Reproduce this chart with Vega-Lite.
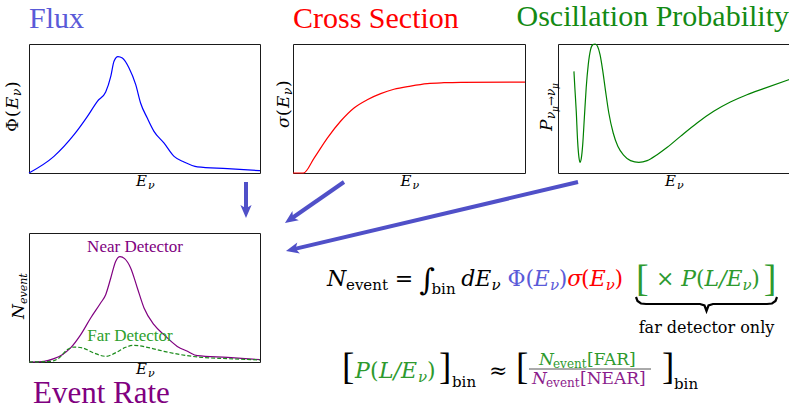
{
"$schema": "https://vega.github.io/schema/vega-lite/v6.json",
"background": "white",
"padding": 0,
"config": {
  "view": {"stroke": "#1a1a1a", "strokeWidth": 1},
  "axis": {"disable": true},
  "text": {"align": "left", "baseline": "alphabetic", "font": "DejaVu Serif", "color": "#000000"}
},
"columns": 3,
"align": "none",
"bounds": "flush",
"spacing": {"row": 60, "column": 33},
"concat": [
  {"width": 231, "height": 129,
   "title": {"text": "Flux", "color": "#5a5ad8", "anchor": "start", "offset": -14, "frame": "group", "baseline": "alphabetic", "font": "Liberation Serif", "fontWeight": "normal", "fontSize": 30},
   "data": {"values": [{}]},
   "layer": [
    {"data": {"values": [
      {"E":0,"v":0},{"E":0.108,"v":0.129},{"E":0.195,"v":0.297},{"E":0.253,"v":0.439},{"E":0.296,"v":0.556},{"E":0.332,"v":0.628},{"E":0.354,"v":0.749},{"E":0.368,"v":0.866},{"E":0.385,"v":0.902},{"E":0.404,"v":0.891},{"E":0.433,"v":0.814},{"E":0.462,"v":0.685},{"E":0.483,"v":0.543},{"E":0.512,"v":0.426},{"E":0.541,"v":0.323},{"E":0.584,"v":0.233},{"E":0.628,"v":0.129},{"E":0.671,"v":0.085},{"E":0.729,"v":0.047},{"E":0.859,"v":0.034},{"E":1,"v":0.018}]},
     "mark": {"type": "line", "color": "#0000ff", "strokeWidth": 1.2, "interpolate": "monotone"},
     "encoding": {"x": {"field": "E", "type": "quantitative", "scale": {"domain":[0,1],"nice":false,"zero":false}}, "y": {"field": "v", "type": "quantitative", "scale": {"domain":[0,1],"nice":false,"zero":false}}}},
    {"mark": {"type": "text", "text": "E", "fontStyle": "italic", "fontSize": 15}, "encoding": {"x": {"datum": 0.463}, "y": {"datum": -0.101}}},
    {"mark": {"type": "text", "text": "ν", "fontStyle": "italic", "fontSize": 11}, "encoding": {"x": {"datum": 0.515}, "y": {"datum": -0.124}}},
    {"mark": {"type": "text", "text": "Φ", "fontSize": 17, "angle": 270}, "encoding": {"x": {"datum": -0.048}, "y": {"datum": 0.318}}},
    {"mark": {"type": "text", "text": "(", "fontSize": 17, "angle": 270}, "encoding": {"x": {"datum": -0.048}, "y": {"datum": 0.434}}},
    {"mark": {"type": "text", "text": "E", "fontStyle": "italic", "fontSize": 17, "angle": 270}, "encoding": {"x": {"datum": -0.048}, "y": {"datum": 0.496}}},
    {"mark": {"type": "text", "text": "ν", "fontStyle": "italic", "fontSize": 12, "angle": 270}, "encoding": {"x": {"datum": -0.035}, "y": {"datum": 0.597}}},
    {"mark": {"type": "text", "text": ")", "fontSize": 17, "angle": 270}, "encoding": {"x": {"datum": -0.048}, "y": {"datum": 0.659}}}
   ]},
  {"width": 232, "height": 129,
   "title": {"text": "Cross Section", "color": "#ff0000", "anchor": "start", "offset": -14, "frame": "group", "baseline": "alphabetic", "font": "Liberation Serif", "fontWeight": "normal", "fontSize": 30},
   "data": {"values": [{}]},
   "layer": [
    {"data": {"values": [
      {"E":0,"v":0},{"E":0.045,"v":0},{"E":0.091,"v":0.116},{"E":0.148,"v":0.271},{"E":0.205,"v":0.401},{"E":0.263,"v":0.504},{"E":0.320,"v":0.568},{"E":0.378,"v":0.615},{"E":0.435,"v":0.649},{"E":0.507,"v":0.674},{"E":0.579,"v":0.693},{"E":0.651,"v":0.700},{"E":0.723,"v":0.703},{"E":1,"v":0.705}]},
     "mark": {"type": "line", "color": "#ff0000", "strokeWidth": 1.2, "interpolate": "monotone"},
     "encoding": {"x": {"field": "E", "type": "quantitative", "scale": {"domain":[0,1],"nice":false,"zero":false}}, "y": {"field": "v", "type": "quantitative", "scale": {"domain":[0,1],"nice":false,"zero":false}}}},
    {"mark": {"type": "text", "text": "E", "fontStyle": "italic", "fontSize": 15}, "encoding": {"x": {"datum": 0.463}, "y": {"datum": -0.101}}},
    {"mark": {"type": "text", "text": "ν", "fontStyle": "italic", "fontSize": 11}, "encoding": {"x": {"datum": 0.515}, "y": {"datum": -0.124}}},
    {"mark": {"type": "text", "text": "σ", "fontStyle": "italic", "fontSize": 17, "angle": 270}, "encoding": {"x": {"datum": -0.017}, "y": {"datum": 0.349}}},
    {"mark": {"type": "text", "text": "(", "fontSize": 17, "angle": 270}, "encoding": {"x": {"datum": -0.017}, "y": {"datum": 0.442}}},
    {"mark": {"type": "text", "text": "E", "fontStyle": "italic", "fontSize": 17, "angle": 270}, "encoding": {"x": {"datum": -0.017}, "y": {"datum": 0.504}}},
    {"mark": {"type": "text", "text": "ν", "fontStyle": "italic", "fontSize": 12, "angle": 270}, "encoding": {"x": {"datum": -0.004}, "y": {"datum": 0.605}}},
    {"mark": {"type": "text", "text": ")", "fontSize": 17, "angle": 270}, "encoding": {"x": {"datum": -0.017}, "y": {"datum": 0.667}}}
   ]},
  {"width": 231, "height": 129,
   "title": {"text": "Oscillation Probability", "color": "#138a13", "anchor": "end", "offset": -14, "frame": "group", "baseline": "alphabetic", "font": "Liberation Serif", "fontWeight": "normal", "fontSize": 30},
   "data": {"values": [{}]},
   "layer": [
    {"data": {"values": [
      {"E":0.069,"v":0.788},{"E":0.073,"v":0.659},{"E":0.079,"v":0.478},{"E":0.085,"v":0.245},{"E":0.091,"v":0.116},{"E":0.095,"v":0.083},{"E":0.101,"v":0.116},{"E":0.107,"v":0.220},{"E":0.114,"v":0.426},{"E":0.122,"v":0.659},{"E":0.131,"v":0.840},{"E":0.141,"v":0.956},{"E":0.151,"v":0.995},{"E":0.161,"v":1.0},{"E":0.171,"v":0.982},{"E":0.182,"v":0.917},{"E":0.193,"v":0.801},{"E":0.206,"v":0.633},{"E":0.220,"v":0.465},{"E":0.239,"v":0.310},{"E":0.259,"v":0.207},{"E":0.285,"v":0.137},{"E":0.314,"v":0.096},{"E":0.350,"v":0.083},{"E":0.386,"v":0.096},{"E":0.429,"v":0.142},{"E":0.473,"v":0.199},{"E":0.530,"v":0.284},{"E":0.602,"v":0.388},{"E":0.674,"v":0.478},{"E":0.746,"v":0.550},{"E":0.818,"v":0.607},{"E":0.890,"v":0.654},{"E":1,"v":0.724}]},
     "mark": {"type": "line", "color": "#008000", "strokeWidth": 1.2, "interpolate": "monotone"},
     "encoding": {"x": {"field": "E", "type": "quantitative", "scale": {"domain":[0,1],"nice":false,"zero":false}}, "y": {"field": "v", "type": "quantitative", "scale": {"domain":[0,1],"nice":false,"zero":false}}}},
    {"mark": {"type": "text", "text": "E", "fontStyle": "italic", "fontSize": 15}, "encoding": {"x": {"datum": 0.463}, "y": {"datum": -0.101}}},
    {"mark": {"type": "text", "text": "ν", "fontStyle": "italic", "fontSize": 11}, "encoding": {"x": {"datum": 0.515}, "y": {"datum": -0.124}}},
    {"mark": {"type": "text", "text": "P", "fontStyle": "italic", "fontSize": 17, "angle": 270}, "encoding": {"x": {"datum": -0.026}, "y": {"datum": 0.326}}},
    {"mark": {"type": "text", "text": "ν", "fontStyle": "italic", "fontSize": 12, "angle": 270}, "encoding": {"x": {"datum": -0.011}, "y": {"datum": 0.419}}},
    {"mark": {"type": "text", "text": "μ", "fontStyle": "italic", "fontSize": 9, "angle": 270}, "encoding": {"x": {"datum": -0.002}, "y": {"datum": 0.473}}},
    {"mark": {"type": "text", "text": "→", "fontSize": 12, "angle": 270}, "encoding": {"x": {"datum": -0.011}, "y": {"datum": 0.520}}},
    {"mark": {"type": "text", "text": "ν", "fontStyle": "italic", "fontSize": 12, "angle": 270}, "encoding": {"x": {"datum": -0.011}, "y": {"datum": 0.597}}},
    {"mark": {"type": "text", "text": "μ", "fontStyle": "italic", "fontSize": 9, "angle": 270}, "encoding": {"x": {"datum": -0.002}, "y": {"datum": 0.652}}}
   ]},
  {"width": 231, "height": 129,
   "title": {"text": "Event Rate", "color": "#800080", "anchor": "start", "orient": "bottom", "offset": 24, "dx": 4, "frame": "group", "baseline": "alphabetic", "font": "Liberation Serif", "fontWeight": "normal", "fontSize": 31},
   "data": {"values": [{}]},
   "layer": [
    {"data": {"values": [
      {"E":0,"v":0},{"E":0.065,"v":0.005},{"E":0.108,"v":0.026},{"E":0.144,"v":0.057},{"E":0.180,"v":0.109},{"E":0.224,"v":0.212},{"E":0.267,"v":0.341},{"E":0.310,"v":0.457},{"E":0.332,"v":0.522},{"E":0.354,"v":0.651},{"E":0.375,"v":0.780},{"E":0.394,"v":0.817},{"E":0.414,"v":0.801},{"E":0.440,"v":0.729},{"E":0.469,"v":0.574},{"E":0.498,"v":0.419},{"E":0.541,"v":0.289},{"E":0.584,"v":0.212},{"E":0.642,"v":0.121},{"E":0.686,"v":0.083},{"E":0.729,"v":0.049},{"E":0.859,"v":0.036},{"E":1,"v":0.018}]},
     "mark": {"type": "line", "color": "#800080", "strokeWidth": 1.2, "interpolate": "monotone"},
     "encoding": {"x": {"field": "E", "type": "quantitative", "scale": {"domain":[0,1],"nice":false,"zero":false}}, "y": {"field": "v", "type": "quantitative", "scale": {"domain":[0,1],"nice":false,"zero":false}}}},
    {"data": {"values": [
      {"E":0,"v":0},{"E":0.094,"v":0.005},{"E":0.130,"v":0.031},{"E":0.166,"v":0.096},{"E":0.195,"v":0.116},{"E":0.231,"v":0.109},{"E":0.281,"v":0.070},{"E":0.332,"v":0.044},{"E":0.382,"v":0.078},{"E":0.418,"v":0.114},{"E":0.455,"v":0.129},{"E":0.512,"v":0.114},{"E":0.584,"v":0.083},{"E":0.657,"v":0.057},{"E":0.729,"v":0.039},{"E":0.859,"v":0.026},{"E":1,"v":0.016}]},
     "mark": {"type": "line", "color": "#1c8c1c", "strokeWidth": 1.2, "strokeDash": [4, 2], "interpolate": "monotone"},
     "encoding": {"x": {"field": "E", "type": "quantitative"}, "y": {"field": "v", "type": "quantitative"}}},
    {"mark": {"type": "text", "text": "Near Detector", "font": "Liberation Serif", "fontSize": 17, "align": "center", "color": "#800080"}, "encoding": {"x": {"datum": 0.459}, "y": {"datum": 0.850}}},
    {"mark": {"type": "text", "text": "Far Detector", "font": "Liberation Serif", "fontSize": 17, "align": "center", "color": "#2ca02c"}, "encoding": {"x": {"datum": 0.437}, "y": {"datum": 0.163}}},
    {"mark": {"type": "text", "text": "E", "fontStyle": "italic", "fontSize": 15}, "encoding": {"x": {"datum": 0.463}, "y": {"datum": -0.095}}},
    {"mark": {"type": "text", "text": "ν", "fontStyle": "italic", "fontSize": 11}, "encoding": {"x": {"datum": 0.515}, "y": {"datum": -0.118}}},
    {"mark": {"type": "text", "text": "N", "fontStyle": "italic", "fontSize": 17, "angle": 270}, "encoding": {"x": {"datum": -0.022}, "y": {"datum": 0.333}}},
    {"mark": {"type": "text", "text": "event", "fontStyle": "italic", "fontSize": 11, "angle": 270}, "encoding": {"x": {"datum": -0.009}, "y": {"datum": 0.450}}}
   ]},
  {"width": 232, "height": 129,
   "view": {"stroke": null},
   "data": {"values": [{}]},
   "layer": [
    {"mark": {"type": "point", "size": 1, "opacity": 0}, "encoding": {"x": {"datum": -292, "scale": {"domain":[0,232],"nice":false,"zero":false}}, "y": {"datum": -232, "scale": {"domain":[0,129],"nice":false,"zero":false,"reverse":true}}}},
    {"mark": {"type": "rule", "color": "#5050c8", "strokeWidth": 4}, "encoding": {"x": {"datum": -47}, "y": {"datum": -51}, "x2": {"datum": -47}, "y2": {"datum": -22}}},
    {"mark": {"type": "rule", "color": "#5050c8", "strokeWidth": 4}, "encoding": {"x": {"datum": 51}, "y": {"datum": -51}, "x2": {"datum": -2.3}, "y2": {"datum": -14}}},
    {"mark": {"type": "rule", "color": "#5050c8", "strokeWidth": 4}, "encoding": {"x": {"datum": 285}, "y": {"datum": -51}, "x2": {"datum": -0.2}, "y2": {"datum": 16.4}}},
    {"mark": {"type": "point", "shape": "M0,-1L0.8,0.85L0,0.4L-0.8,0.85Z", "size": 196, "filled": true, "color": "#5050c8", "opacity": 1, "angle": 180}, "encoding": {"x": {"datum": -47}, "y": {"datum": -22}}},
    {"mark": {"type": "point", "shape": "M0,-1L0.8,0.85L0,0.4L-0.8,0.85Z", "size": 196, "filled": true, "color": "#5050c8", "opacity": 1, "angle": 235.2}, "encoding": {"x": {"datum": -2.3}, "y": {"datum": -14}}},
    {"mark": {"type": "point", "shape": "M0,-1L0.8,0.85L0,0.4L-0.8,0.85Z", "size": 196, "filled": true, "color": "#5050c8", "opacity": 1, "angle": 256.7}, "encoding": {"x": {"datum": -0.2}, "y": {"datum": 16.4}}},
    {"mark": {"type": "text", "text": "N", "fontStyle": "italic", "fontSize": 22}, "encoding": {"x": {"datum": 34}, "y": {"datum": 53}}},
    {"mark": {"type": "text", "text": "event", "fontSize": 15}, "encoding": {"x": {"datum": 53}, "y": {"datum": 57}}},
    {"mark": {"type": "text", "text": "=", "fontSize": 22}, "encoding": {"x": {"datum": 101.7}, "y": {"datum": 53}}},
    {"mark": {"type": "text", "text": "∫", "fontSize": 30}, "encoding": {"x": {"datum": 126.4}, "y": {"datum": 57}}},
    {"mark": {"type": "text", "text": "bin", "fontSize": 15}, "encoding": {"x": {"datum": 138.5}, "y": {"datum": 61}}},
    {"mark": {"type": "text", "text": "dE", "fontStyle": "italic", "fontSize": 22}, "encoding": {"x": {"datum": 168.2}, "y": {"datum": 53}}},
    {"mark": {"type": "text", "text": "ν", "fontStyle": "italic", "fontSize": 15}, "encoding": {"x": {"datum": 198.5}, "y": {"datum": 57}}},
    {"mark": {"type": "text", "text": "Φ(", "fontSize": 22, "color": "#5a5ad8"}, "encoding": {"x": {"datum": 214.4}, "y": {"datum": 53}}},
    {"mark": {"type": "text", "text": "E", "fontStyle": "italic", "fontSize": 22, "color": "#5a5ad8"}, "encoding": {"x": {"datum": 240.8}, "y": {"datum": 53}}},
    {"mark": {"type": "text", "text": "ν", "fontStyle": "italic", "fontSize": 15, "color": "#5a5ad8"}, "encoding": {"x": {"datum": 256.9}, "y": {"datum": 57}}},
    {"mark": {"type": "text", "text": ")", "fontSize": 22, "color": "#5a5ad8"}, "encoding": {"x": {"datum": 265.7}, "y": {"datum": 53}}},
    {"mark": {"type": "text", "text": "σ", "fontStyle": "italic", "fontSize": 22, "color": "#ff0000"}, "encoding": {"x": {"datum": 274.2}, "y": {"datum": 53}}},
    {"mark": {"type": "text", "text": "(", "fontSize": 22, "color": "#ff0000"}, "encoding": {"x": {"datum": 288.1}, "y": {"datum": 53}}},
    {"mark": {"type": "text", "text": "E", "fontStyle": "italic", "fontSize": 22, "color": "#ff0000"}, "encoding": {"x": {"datum": 296.7}, "y": {"datum": 53}}},
    {"mark": {"type": "text", "text": "ν", "fontStyle": "italic", "fontSize": 15, "color": "#ff0000"}, "encoding": {"x": {"datum": 312.7}, "y": {"datum": 57}}},
    {"mark": {"type": "text", "text": ")", "fontSize": 22, "color": "#ff0000"}, "encoding": {"x": {"datum": 321.5}, "y": {"datum": 53}}},
    {"mark": {"type": "text", "text": "[", "font": "Liberation Serif", "fontSize": 38, "color": "#2e9a2e"}, "encoding": {"x": {"datum": 343.1}, "y": {"datum": 58}}},
    {"mark": {"type": "text", "text": "×", "fontSize": 22, "color": "#2e9a2e"}, "encoding": {"x": {"datum": 362.9}, "y": {"datum": 53}}},
    {"mark": {"type": "text", "text": "P", "fontStyle": "italic", "fontSize": 22, "color": "#2e9a2e"}, "encoding": {"x": {"datum": 388.2}, "y": {"datum": 53}}},
    {"mark": {"type": "text", "text": "(", "fontSize": 22, "color": "#2e9a2e"}, "encoding": {"x": {"datum": 403}, "y": {"datum": 53}}},
    {"mark": {"type": "text", "text": "L/E", "fontStyle": "italic", "fontSize": 22, "color": "#2e9a2e"}, "encoding": {"x": {"datum": 411.6}, "y": {"datum": 53}}},
    {"mark": {"type": "text", "text": "ν", "fontStyle": "italic", "fontSize": 15, "color": "#2e9a2e"}, "encoding": {"x": {"datum": 449.5}, "y": {"datum": 57}}},
    {"mark": {"type": "text", "text": ")", "fontSize": 22, "color": "#2e9a2e"}, "encoding": {"x": {"datum": 458.3}, "y": {"datum": 53}}},
    {"mark": {"type": "text", "text": "]", "font": "Liberation Serif", "fontSize": 38, "color": "#2e9a2e"}, "encoding": {"x": {"datum": 470.7}, "y": {"datum": 58}}},
    {"data": {"values": [
      {"i":0,"bx":343,"by":64},{"i":1,"bx":344.5,"by":68},{"i":2,"bx":348,"by":70.5},{"i":3,"bx":353,"by":71},{"i":4,"bx":407,"by":71},{"i":5,"bx":411.5,"by":72.5},{"i":6,"bx":413.5,"by":78},{"i":7,"bx":415.5,"by":72.5},{"i":8,"bx":420,"by":71},{"i":9,"bx":474,"by":71},{"i":10,"bx":479,"by":70.5},{"i":11,"bx":482.5,"by":68},{"i":12,"bx":484,"by":64}]},
     "mark": {"type": "line", "color": "#000000", "strokeWidth": 2.2},
     "encoding": {"x": {"field": "bx", "type": "quantitative"}, "y": {"field": "by", "type": "quantitative"}, "order": {"field": "i"}}},
    {"mark": {"type": "text", "text": "far detector only", "fontSize": 16, "align": "center"}, "encoding": {"x": {"datum": 413.5}, "y": {"datum": 100}}},
    {"mark": {"type": "text", "text": "[", "font": "Liberation Serif", "fontSize": 37}, "encoding": {"x": {"datum": 49}, "y": {"datum": 146}}},
    {"mark": {"type": "text", "text": "P", "fontStyle": "italic", "fontSize": 22, "color": "#2e9a2e"}, "encoding": {"x": {"datum": 62}, "y": {"datum": 145}}},
    {"mark": {"type": "text", "text": "(", "fontSize": 22, "color": "#2e9a2e"}, "encoding": {"x": {"datum": 77}, "y": {"datum": 145}}},
    {"mark": {"type": "text", "text": "L/E", "fontStyle": "italic", "fontSize": 22, "color": "#2e9a2e"}, "encoding": {"x": {"datum": 86}, "y": {"datum": 145}}},
    {"mark": {"type": "text", "text": "ν", "fontStyle": "italic", "fontSize": 15, "color": "#2e9a2e"}, "encoding": {"x": {"datum": 125}, "y": {"datum": 149}}},
    {"mark": {"type": "text", "text": ")", "fontSize": 22, "color": "#2e9a2e"}, "encoding": {"x": {"datum": 134}, "y": {"datum": 145}}},
    {"mark": {"type": "text", "text": "]", "font": "Liberation Serif", "fontSize": 37}, "encoding": {"x": {"datum": 146}, "y": {"datum": 146}}},
    {"mark": {"type": "text", "text": "bin", "fontSize": 15}, "encoding": {"x": {"datum": 159}, "y": {"datum": 154}}},
    {"mark": {"type": "text", "text": "≈", "fontSize": 22}, "encoding": {"x": {"datum": 196}, "y": {"datum": 145}}},
    {"mark": {"type": "text", "text": "[", "font": "Liberation Serif", "fontSize": 37}, "encoding": {"x": {"datum": 223}, "y": {"datum": 146}}},
    {"mark": {"type": "text", "text": "N", "fontStyle": "italic", "fontSize": 17, "color": "#2e9a2e"}, "encoding": {"x": {"datum": 246}, "y": {"datum": 132}}},
    {"mark": {"type": "text", "text": "event", "fontSize": 12, "color": "#2e9a2e"}, "encoding": {"x": {"datum": 260}, "y": {"datum": 135}}},
    {"mark": {"type": "text", "text": "[FAR]", "fontSize": 17, "color": "#2e9a2e"}, "encoding": {"x": {"datum": 294}, "y": {"datum": 132}}},
    {"mark": {"type": "rule", "color": "#555555", "strokeWidth": 1}, "encoding": {"x": {"datum": 236}, "x2": {"datum": 358}, "y": {"datum": 136}}},
    {"mark": {"type": "text", "text": "N", "fontStyle": "italic", "fontSize": 17, "color": "#8b1c8b"}, "encoding": {"x": {"datum": 239}, "y": {"datum": 151}}},
    {"mark": {"type": "text", "text": "event", "fontSize": 12, "color": "#8b1c8b"}, "encoding": {"x": {"datum": 253}, "y": {"datum": 154}}},
    {"mark": {"type": "text", "text": "[NEAR]", "fontSize": 17, "color": "#8b1c8b"}, "encoding": {"x": {"datum": 287}, "y": {"datum": 151}}},
    {"mark": {"type": "text", "text": "]", "font": "Liberation Serif", "fontSize": 37}, "encoding": {"x": {"datum": 369}, "y": {"datum": 146}}},
    {"mark": {"type": "text", "text": "bin", "fontSize": 15}, "encoding": {"x": {"datum": 381}, "y": {"datum": 156}}}
   ]}
]
}
